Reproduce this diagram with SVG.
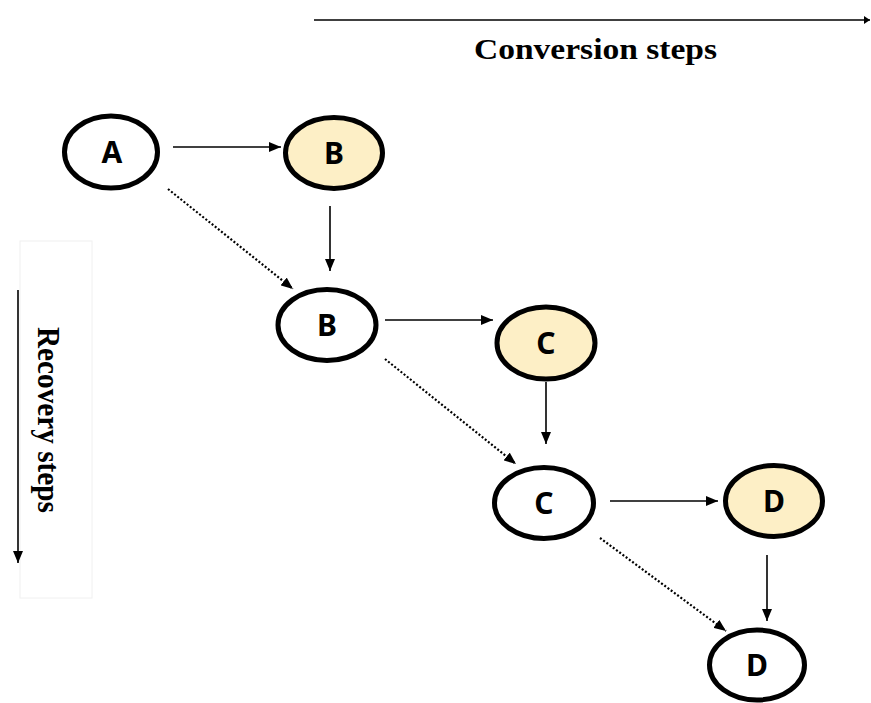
<svg xmlns="http://www.w3.org/2000/svg" width="871" height="703" viewBox="0 0 871 703">
<style>
.node{stroke:#000;stroke-width:5}
.plain{fill:#fff}
.hl{fill:#fdefc6}
.lbl{font-family:"Noto Sans","DejaVu Sans",sans-serif;font-weight:bold;font-size:30px;text-anchor:middle;fill:#000}
.cap{font-family:"Liberation Serif","Times New Roman",serif;font-weight:bold;font-size:30px;fill:#000}
.solid{stroke:#000;stroke-width:1.6;fill:none}
.dot{stroke:#000;stroke-width:2.2;stroke-dasharray:2 2;fill:none}
</style>
<defs>
<marker id="ah" markerUnits="userSpaceOnUse" markerWidth="12" markerHeight="10" refX="12" refY="5" orient="auto">
<path d="M0,0 L12,5 L0,10 z" fill="#000"/>
</marker>
<marker id="ahs" markerUnits="userSpaceOnUse" markerWidth="6" markerHeight="8" refX="6" refY="4" orient="auto">
<path d="M0,0 L6,4 L0,8 z" fill="#000"/>
</marker>
</defs>
<rect width="871" height="703" fill="#fff"/>
<rect x="20" y="241" width="72" height="357" fill="none" stroke="#f0f0f0" stroke-width="1"/>
<g id="axes">
<line class="solid" x1="314" y1="20" x2="870" y2="20" stroke-width="2" marker-end="url(#ahs)"/>
<text class="cap" x="474" y="59" textLength="243" lengthAdjust="spacingAndGlyphs">Conversion steps</text>
<line class="solid" x1="18" y1="290" x2="18" y2="563" stroke-width="2" marker-end="url(#ah)"/>
<text class="cap" transform="translate(38,327) rotate(90)" x="0" y="0" style="font-size:31px" textLength="186" lengthAdjust="spacingAndGlyphs">Recovery steps</text>
</g>
<g id="connectors">
<line class="solid" x1="173" y1="147" x2="281" y2="147" marker-end="url(#ah)"/>
<line class="solid" x1="330" y1="206" x2="330" y2="271" marker-end="url(#ah)"/>
<line class="dot" x1="168" y1="189" x2="293" y2="289" marker-end="url(#ah)"/>
<line class="solid" x1="385" y1="320" x2="493" y2="320" marker-end="url(#ah)"/>
<line class="solid" x1="546" y1="382" x2="546" y2="444" marker-end="url(#ah)"/>
<line class="dot" x1="385" y1="359" x2="516" y2="464" marker-end="url(#ah)"/>
<line class="solid" x1="610" y1="501" x2="718" y2="501" marker-end="url(#ah)"/>
<line class="solid" x1="767" y1="555" x2="767" y2="621" marker-end="url(#ah)"/>
<line class="dot" x1="600" y1="538" x2="726" y2="631" marker-end="url(#ah)"/>
</g>
<g id="nodeA"><ellipse class="node plain" cx="111" cy="152" rx="46.5" ry="36"/><text class="lbl" x="112" y="163">A</text></g>
<g id="nodeB1"><ellipse class="node hl" cx="334" cy="153" rx="48.5" ry="35.5"/><text class="lbl" x="334" y="164">B</text></g>
<g id="nodeB2"><ellipse class="node plain" cx="327" cy="325" rx="49" ry="35.5"/><text class="lbl" x="327" y="336">B</text></g>
<g id="nodeC1"><ellipse class="node hl" cx="546" cy="343" rx="49" ry="36"/><text class="lbl" x="546" y="354">C</text></g>
<g id="nodeC2"><ellipse class="node plain" cx="544" cy="503" rx="49.5" ry="35.5"/><text class="lbl" x="544" y="514">C</text></g>
<g id="nodeD1"><ellipse class="node hl" cx="774" cy="501" rx="48.5" ry="35.5"/><text class="lbl" x="774" y="512">D</text></g>
<g id="nodeD2"><ellipse class="node plain" cx="757" cy="665" rx="47.5" ry="35"/><text class="lbl" x="757" y="676">D</text></g>
</svg>
